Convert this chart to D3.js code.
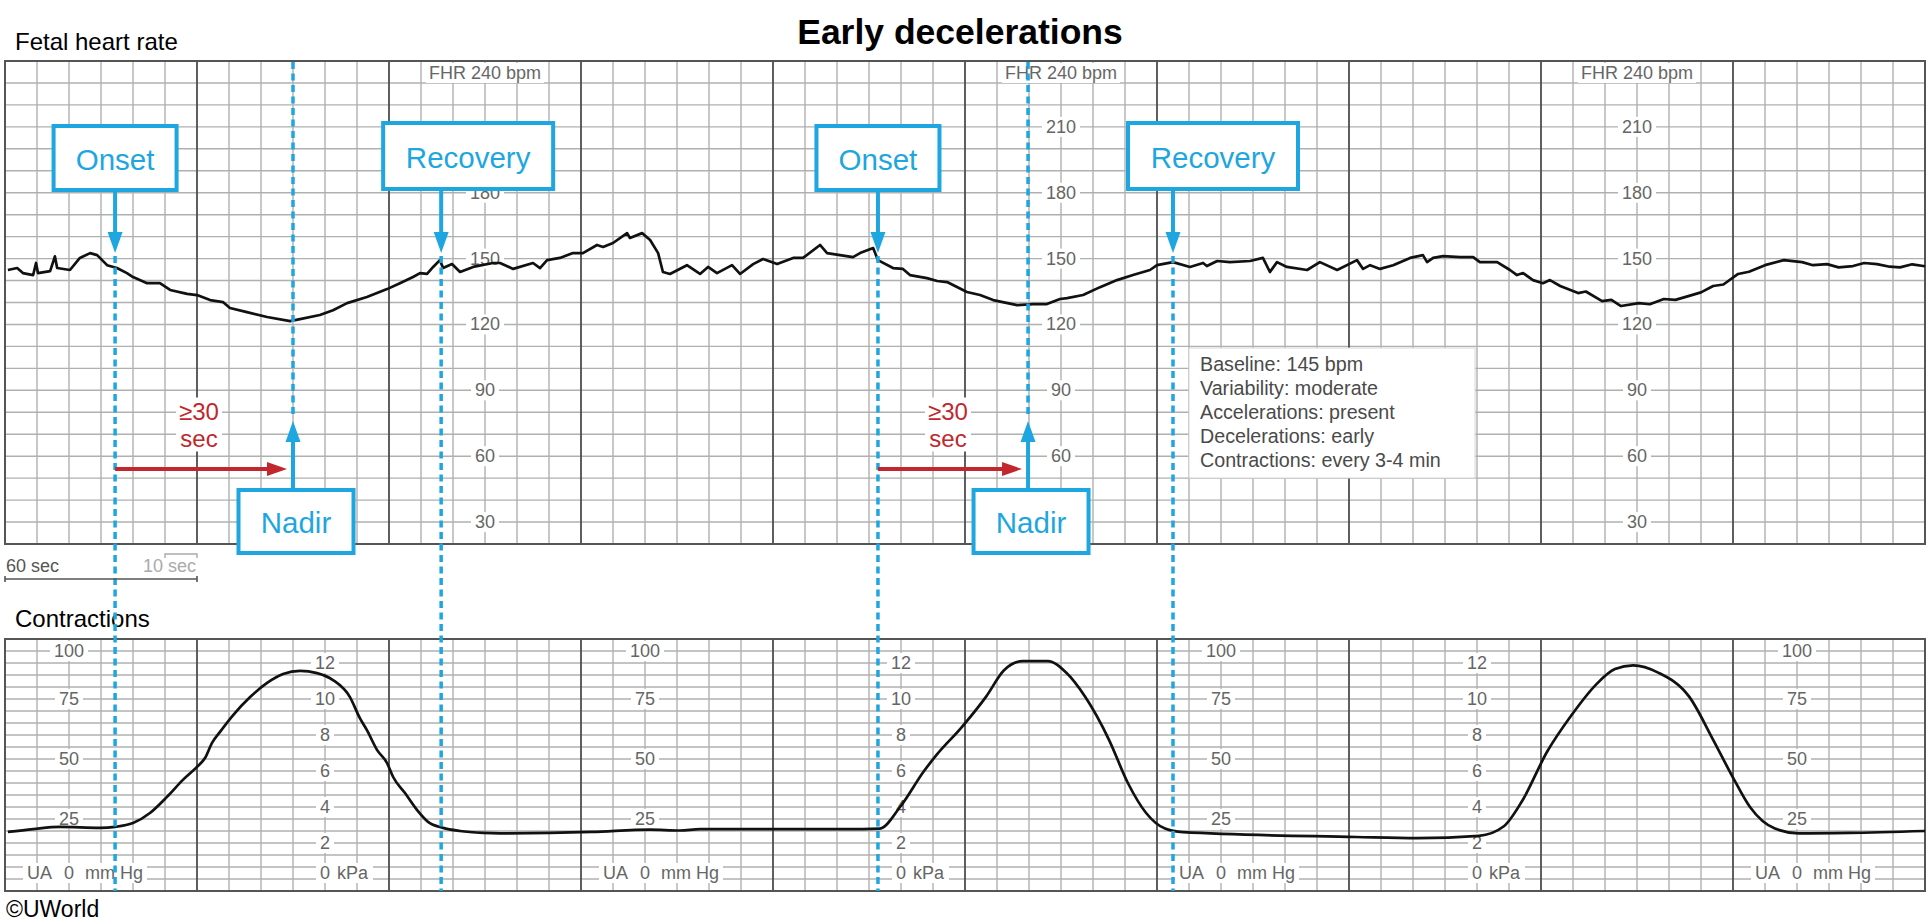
<!DOCTYPE html>
<html><head><meta charset="utf-8">
<script src="https://cdn.jsdelivr.net/npm/d3@7"></script>
<style>
body{margin:0;background:#fff}
svg{display:block}
text{font-family:"Liberation Sans",Arial,Helvetica,sans-serif}
</style>
</head><body>
<svg id="c" width="1930" height="924"></svg>
<script>
// ---------------- DATA ----------------
const fhrTime = [0.9,3.8,5.6,8.8,9.7,10.3,14.1,15.6,16.3,20.3,23.4,26.6,28.8,31.9,35,38.1,40,44.4,48.4,51.6,56.9,60,64.1,68.1,70.3,75.6,81.9,89.1,92.2,98.4,102.5,106.9,113.1,119.4,123.4,127.5,129.7,131.9,133.8,135.9,136.9,139.7,142.2,146.3,152.5,154.7,158.8,165,167.2,169.4,173.4,177.5,180.6,185,186.9,190,194.4,195.3,199.1,201.6,204.1,205.6,207.8,213.1,217.2,219.7,222.5,227.2,229.7,233.8,236.9,241.3,246.3,249.4,254.7,256.9,265,267.2,271.3,272.8,277.5,280.6,282.8,288.1,291.3,294.4,300.6,304.7,308.8,316.3,321.3,325.6,329.7,331.9,336.9,342.2,347.5,352.5,357.8,360,365,370.3,374.4,375.6,378.8,382.8,389.1,393.1,395.3,397.5,400.6,406.9,410.9,416.3,422.5,424.4,426.6,429.7,433.8,439.1,443.1,444.4,446.3,449.4,454.7,458.8,460.9,466.3,470.3,472.5,474.4,477.5,480.6,482.8,486,491.6,494,499.1,502,505,510.6,514,518.4,522,526.3,530,533.8,537,541.6,545,550,555.9,561.6,565,569.4,573,577.5,581,585,589,592.2,596,600];
const fhrBpm = [144.8,145.7,143.4,142.5,148,143.4,144.3,151,145.7,144.8,150.3,152.5,151.6,147,145.7,143.4,141.6,138.8,138.8,135.7,133.9,133.4,131.1,130.2,127.5,125.6,123.4,121.5,122.4,124.3,126.5,129.7,132.5,136.1,138.8,141.6,143.4,143,146.2,149.3,145.7,147.5,143.9,146.2,148,148,145.3,148,145.7,149.3,150.3,152.5,152.5,156.2,155.3,157.1,161.6,159.4,161.6,158.5,152.5,143.9,143,147,143,146.2,143.4,147,143,147.5,149.8,147.5,150.3,150.3,156.2,152.5,150.7,152.5,154.8,149.3,145.7,145.3,142.5,141.1,139.8,139.3,134.8,133.4,131.1,128.8,129.3,129.3,131.6,132,133.4,137,140.2,142.5,144.8,147,148.4,146.2,148,146.6,148.9,148.4,148.9,150.3,143.9,148.4,146.2,144.8,148.4,144.8,149.3,145.3,147,145.3,147,150.3,151.6,148.4,150.3,151.1,150.7,150.7,148.4,148.4,144.8,142.5,143.4,140.2,138.8,140.2,137.5,134.3,135,130.6,131.2,128.4,129.7,129.2,131.6,131.2,133,134.6,137.5,138.2,143,144,147,149.3,148.4,147,147.5,146,146.6,148,147.5,146.3,146,147.4,146.5];

const ucTime = [0.9,8.8,17.2,29.7,34.4,40,45.3,50.6,55.6,60,62.5,64.7,67.2,71.3,76.6,81.9,86.9,92.2,97.5,102.5,107.8,110.9,113.1,116.3,119.4,121.3,125,128.8,132.2,136.9,142.2,149.4,154.7,183.4,201.6,210.9,217.2,268,273.4,279.7,287.2,291.3,298.8,306.6,312.2,318.1,325.9,331.6,337.5,345,350.9,356.6,362.5,368.1,422.2,441.3,460.6,468.4,474.1,481.9,489.4,497.2,503.1,508.8,516.6,526.3,533.8,539.7,545.3,553.1,560.6,576.3,600];
const ucMmHg = [19.6,20.8,21.7,21.3,21.7,23.3,27.5,34.2,41.3,46.7,50.4,56.7,61.3,68.3,75.8,81.7,85.4,86.7,85.8,82.9,75.8,67,62,53.7,48.3,42.5,35.8,28.7,23.8,21.3,20,19.2,19,19.6,20.6,20.2,20.8,20.8,21,30,45,52,63,76,87,90.8,90.8,86,76,58,40,27.5,21,19.5,17.5,17,18,22,32.5,53,68,81,87.5,89,86,76,58,43,30,21,19,19.2,20];

const fhrTicks = [210,180,150,120,90,60,30];
const fhrLabelTimes = [150,330,510];
const mmHgTicks = [100,75,50,25];
const mmHgLabelTimes = [20,200,380,560];
const kPaTicks = [12,10,8,6,4,2];
const kPaLabelTimes = [100,280,460];

const onsetTimes = [34.4,272.8];
const nadirTimes = [90,319.7];
const recoveryTimes = [136.3,365];

const infoLines = ["Baseline: 145 bpm","Variability: moderate","Accelerations: present","Decelerations: early","Contractions: every 3-4 min"];

// ---------------- LAYOUT ----------------
const svg = d3.select("#c");
const x = d3.scaleLinear().domain([0,600]).range([5,1925]);
const yF = d3.scaleLinear().domain([20,240]).range([544,61]);
const yU = d3.scaleLinear().domain([-5,100]).range([891,639]);

const BLUE = "#1DA6E0", RED = "#C1272D", MINOR = "#b0b0b0", MAJOR = "#4d4d4d", LBL = "#666";

const gGrid = svg.append("g");
const gLab = svg.append("g");
const gTrace = svg.append("g");
const gAnno = svg.append("g");

function drawGrid(yS, vmin, vmax, step){
  const top = yS(vmax), bot = yS(vmin);
  const hv = d3.range(vmin+step, vmax-step/2, step);
  gGrid.selectAll(null).data(hv).enter().append("line")
    .attr("x1",x(0)).attr("x2",x(600)).attr("y1",d=>yS(d)).attr("y2",d=>yS(d))
    .attr("stroke",MINOR).attr("stroke-width",1.4);
  const vt = d3.range(10,600,10);
  gGrid.selectAll(null).data(vt.filter(t=>t%60!==0)).enter().append("line")
    .attr("x1",d=>x(d)).attr("x2",d=>x(d)).attr("y1",top).attr("y2",bot)
    .attr("stroke",MINOR).attr("stroke-width",1.4);
  gGrid.selectAll(null).data(vt.filter(t=>t%60===0)).enter().append("line")
    .attr("x1",d=>x(d)).attr("x2",d=>x(d)).attr("y1",top).attr("y2",bot)
    .attr("stroke",MAJOR).attr("stroke-width",1.8);
  gGrid.append("rect").attr("x",x(0)).attr("y",top).attr("width",x(600)-x(0)).attr("height",bot-top)
    .attr("fill","none").attr("stroke","#555").attr("stroke-width",2);
}
drawGrid(yF,20,240,10);
drawGrid(yU,-5,100,5);

// annotation box geometry (computed from event times)
const recoveryShift = [27,40];
const boxes = [];
onsetTimes.forEach(t=>boxes.push({cx:x(t), y:126, w:123, h:64, label:"Onset"}));
recoveryTimes.forEach((t,i)=>boxes.push({cx:x(t)+recoveryShift[i], y:123, w:170, h:66, label:"Recovery"}));
nadirTimes.forEach(t=>boxes.push({cx:x(t)+3, y:490, w:115, h:63, label:"Nadir"}));
const hidden = (px,py)=>boxes.some(b=>px>b.cx-b.w/2 && px<b.cx+b.w/2 && py>b.y && py<b.y+b.h);

function bgGroup(parent, build, padX, padY){
  const g = parent.append("g");
  build(g);
  const b = g.node().getBBox();
  g.insert("rect",":first-child").attr("x",b.x-padX).attr("y",b.y-padY)
    .attr("width",b.width+2*padX).attr("height",b.height+2*padY).attr("fill","#fff");
  return g;
}
function grayText(g, tx, ty, s, anchor){
  return g.append("text").attr("x",tx).attr("y",ty).attr("text-anchor",anchor||"middle")
    .attr("dominant-baseline","central").attr("font-size",18).attr("fill",LBL).text(s);
}

// FHR labels
fhrLabelTimes.forEach(t=>{
  bgGroup(gLab, g=>grayText(g, x(t), (yF(240)+yF(230))/2+1, "FHR 240 bpm"), 3, 0);
  fhrTicks.forEach(v=>{
    if (hidden(x(t), yF(v))) return;
    bgGroup(gLab, g=>grayText(g, x(t), yF(v), String(v)), 4, 0);
  });
});
// mmHg labels
mmHgLabelTimes.forEach(t=>{
  mmHgTicks.forEach(v=>{
    const yy = Math.max(yU(v), yU(95));
    bgGroup(gLab, g=>grayText(g, x(t), yy, String(v)), 4, 0);
  });
  bgGroup(gLab, g=>{
    grayText(g, x(t)-17, yU(0)-6, "UA", "end");
    grayText(g, x(t), yU(0)-6, "0");
    grayText(g, x(t)+16, yU(0)-6, "mm Hg", "start");
  }, 4, 0);
});
// kPa labels
kPaLabelTimes.forEach(t=>{
  kPaTicks.forEach(v=>bgGroup(gLab, g=>grayText(g, x(t), yU(v*7.5), String(v)), 4, 0));
  bgGroup(gLab, g=>{
    grayText(g, x(t), yU(0)-6, "0");
    grayText(g, x(t)+12, yU(0)-6, "kPa", "start");
  }, 4, 0);
});

// Traces
const fhrData = fhrTime.map((t,i)=>[t,fhrBpm[i]]);
const ucData = ucTime.map((t,i)=>[t,ucMmHg[i]]);
gTrace.append("path").attr("d", d3.line().x(d=>x(d[0])).y(d=>yF(d[1])).curve(d3.curveLinear)(fhrData))
  .attr("fill","none").attr("stroke","#111").attr("stroke-width",2.7).attr("stroke-linejoin","round");
gTrace.append("path").attr("d", d3.line().x(d=>x(d[0])).y(d=>yU(d[1])).curve(d3.curveMonotoneX)(ucData))
  .attr("fill","none").attr("stroke","#111").attr("stroke-width",2.7).attr("stroke-linejoin","round");

// Info box
gAnno.append("rect").attr("x",1189).attr("y",348).attr("width",286).attr("height",130)
  .attr("fill","#fff").attr("stroke","#d6d6d6").attr("stroke-width",1);
gAnno.selectAll(null).data(infoLines).enter().append("text")
  .attr("x",1200).attr("y",(d,i)=>371+i*24).attr("font-size",19.7).attr("fill","#4a4a4a").text(d=>d);

// Dashed lines
function dashed(xx, y1, y2){
  gAnno.append("line").attr("x1",xx).attr("x2",xx).attr("y1",y1).attr("y2",y2)
    .attr("stroke",BLUE).attr("stroke-width",3.5).attr("stroke-dasharray","7 4.5");
}
onsetTimes.forEach(t=>dashed(x(t),256,891));
recoveryTimes.forEach(t=>dashed(x(t),256,891));
nadirTimes.forEach(t=>dashed(x(t),62,416));

function downArrow(xx, y0, tip){
  gAnno.append("line").attr("x1",xx).attr("x2",xx).attr("y1",y0).attr("y2",tip-18)
    .attr("stroke",BLUE).attr("stroke-width",4);
  gAnno.append("path").attr("d",`M${xx-7.5},${tip-21}L${xx+7.5},${tip-21}L${xx},${tip}Z`).attr("fill",BLUE);
}
function upArrow(xx, y0, tip){
  gAnno.append("line").attr("x1",xx).attr("x2",xx).attr("y1",y0).attr("y2",tip+18)
    .attr("stroke",BLUE).attr("stroke-width",4);
  gAnno.append("path").attr("d",`M${xx-7.5},${tip+21}L${xx+7.5},${tip+21}L${xx},${tip}Z`).attr("fill",BLUE);
}
onsetTimes.forEach(t=>downArrow(x(t),190,253));
recoveryTimes.forEach(t=>downArrow(x(t),189,253));
nadirTimes.forEach(t=>upArrow(x(t),490,421));
boxes.forEach(b=>{
  gAnno.append("rect").attr("x",b.cx-b.w/2).attr("y",b.y).attr("width",b.w).attr("height",b.h)
    .attr("fill","#fff").attr("stroke",BLUE).attr("stroke-width",4);
  gAnno.append("text").attr("x",b.cx).attr("y",b.y+b.h/2+1).attr("text-anchor","middle")
    .attr("dominant-baseline","central").attr("font-size",29.5).attr("fill",BLUE).text(b.label);
});

// Red arrows and ≥30 sec labels
onsetTimes.forEach((t,i)=>{
  const x0 = x(t), tip = x(nadirTimes[i])-6, yy = 469;
  gAnno.append("line").attr("x1",x0).attr("x2",tip-18).attr("y1",yy).attr("y2",yy)
    .attr("stroke",RED).attr("stroke-width",4);
  gAnno.append("path").attr("d",`M${tip-20},${yy-7}L${tip},${yy}L${tip-20},${yy+7}Z`).attr("fill",RED);
  const cx = (x0+x(nadirTimes[i]))/2-5;
  bgGroup(gAnno, g=>{
    g.append("text").attr("x",cx).attr("y",411).attr("text-anchor","middle").attr("dominant-baseline","central")
      .attr("font-size",24).attr("fill",RED).text("≥30");
    g.append("text").attr("x",cx).attr("y",438).attr("text-anchor","middle").attr("dominant-baseline","central")
      .attr("font-size",24).attr("fill",RED).text("sec");
  }, 3, 0);
});

// Titles and texts
svg.append("text").attr("x",960).attr("y",44).attr("text-anchor","middle").attr("font-size",35.5)
  .attr("font-weight","bold").attr("fill","#000").text("Early decelerations");
svg.append("text").attr("x",15).attr("y",50).attr("font-size",24).attr("fill","#000").text("Fetal heart rate");
svg.insert("text","g").attr("x",15).attr("y",627).attr("font-size",24).attr("fill","#000").text("Contractions");
svg.append("text").attr("x",6).attr("y",917).attr("font-size",23).attr("fill","#000").text("©UWorld");

// Scale bar
const sb = svg.append("g");
sb.append("text").attr("x",6).attr("y",566).attr("dominant-baseline","central").attr("font-size",18).attr("fill","#555").text("60 sec");
sb.append("path").attr("d",`M${x(0)},576V582M${x(0)},579H${x(60)}M${x(60)},576V582`)
  .attr("stroke","#555").attr("stroke-width",1.6).attr("fill","none");
sb.append("text").attr("x",x(60)-1).attr("y",566).attr("text-anchor","end").attr("dominant-baseline","central")
  .attr("font-size",18).attr("fill","#aaa").text("10 sec");
sb.append("path").attr("d",`M${x(50)},558V554H${x(60)}V558`)
  .attr("stroke","#aaa").attr("stroke-width",1.4).attr("fill","none");
</script>
</body></html>
